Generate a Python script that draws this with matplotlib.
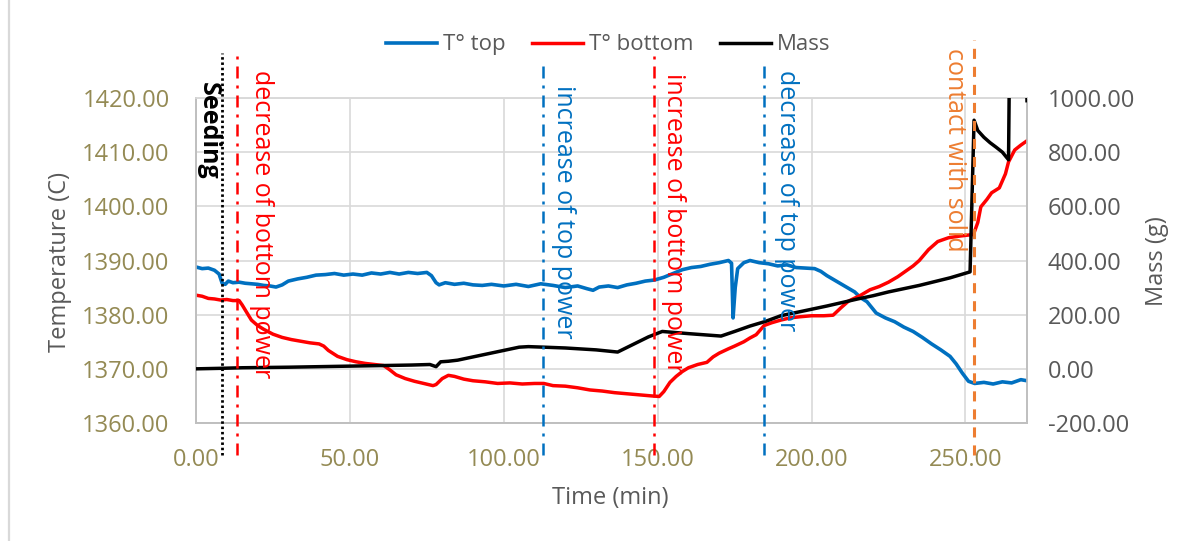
import matplotlib
matplotlib.use("Agg")
import matplotlib.pyplot as plt
from matplotlib.lines import Line2D
from matplotlib.ticker import FormatStrFormatter
import matplotlib.transforms as mtransforms

plt.rcParams['font.family'] = ['Open Sans', 'DejaVu Sans']

# ---- data -------------------------------------------------------------
t_top = [0, 2, 4, 6, 7.5, 8.5, 9.5, 10.5, 12, 14, 16, 18, 20, 22, 24, 26, 28, 30,
         33, 36, 39, 42, 45, 48, 51, 54, 57, 60, 63, 66, 69, 72, 75, 76.5, 78, 79,
         81, 84, 87, 90, 93, 96, 100, 104, 108, 112, 116, 120, 124, 127, 129, 131,
         134, 137, 140, 143, 146, 149, 152, 155, 158, 161, 164, 167, 170, 173, 174,
         174.5, 175.2, 176, 178, 180, 183, 186, 189, 192, 195, 198, 201, 203, 205,
         208, 211, 214, 216, 218, 221, 224, 227, 230, 233, 236, 239, 242, 245, 247,
         249, 251, 253, 256, 259, 262, 265, 268, 270]
temp_top = [1388.8, 1388.5, 1388.6, 1388.2, 1387.5, 1385.8, 1385.6, 1386.2, 1385.9,
            1386.0, 1385.8, 1385.7, 1385.6, 1385.4, 1385.3, 1385.1, 1385.5, 1386.2,
            1386.6, 1386.9, 1387.3, 1387.4, 1387.6, 1387.3, 1387.5, 1387.3, 1387.7,
            1387.5, 1387.8, 1387.5, 1387.8, 1387.6, 1387.8, 1387.2, 1385.9, 1385.5,
            1385.9, 1385.6, 1385.8, 1385.5, 1385.4, 1385.6, 1385.3, 1385.6, 1385.2,
            1385.7, 1385.4, 1385.0, 1385.3, 1384.8, 1384.5, 1385.1, 1385.3, 1385.0,
            1385.5, 1385.8, 1386.2, 1386.4, 1386.9, 1387.6, 1388.3, 1388.7, 1388.9,
            1389.3, 1389.6, 1390.0, 1389.5, 1379.4, 1385.0, 1388.5, 1389.6, 1390.0,
            1389.6, 1389.4, 1389.0, 1389.2, 1388.7, 1388.6, 1388.5, 1388.0, 1387.2,
            1386.2, 1385.2, 1384.2, 1383.1, 1382.4, 1380.3, 1379.4, 1378.7, 1377.7,
            1376.9, 1375.8, 1374.6, 1373.5, 1372.3, 1370.9, 1369.2, 1367.7, 1367.3,
            1367.5, 1367.2, 1367.6, 1367.4, 1368.0, 1367.8]

t_bottom = [0, 2, 4, 6, 8, 10, 12, 14, 15, 16.6, 18, 20, 22, 25, 28, 31, 34, 37, 40,
            41.5, 43, 46, 49, 52, 55, 58, 61, 63, 65, 68, 71, 74, 77, 78, 80, 82, 84,
            87, 90, 94, 98, 102, 106, 110, 113, 116, 120, 124, 128, 132, 136, 140,
            144, 148, 150.5, 152, 154, 156, 158, 160, 163, 166, 168, 170, 173, 175,
            178, 180, 182, 184.6, 187, 190, 193, 196, 200, 204, 207, 209.6, 212, 216,
            219, 222, 225, 228, 231, 233, 235, 238, 241, 244.5, 248, 251, 252.6, 254,
            255, 257, 258.5, 261, 263, 264, 266, 268, 270]
temp_bottom = [1383.6, 1383.4, 1383.0, 1382.9, 1382.7, 1382.8, 1382.6, 1382.6, 1381.8,
               1380.3, 1379.0, 1378.0, 1377.3, 1376.4, 1375.8, 1375.4, 1375.1, 1374.8,
               1374.6, 1374.2, 1373.4, 1372.3, 1371.7, 1371.3, 1371.0, 1370.8, 1370.6,
               1369.8, 1368.9, 1368.2, 1367.7, 1367.3, 1366.9, 1367.1, 1368.2, 1368.8,
               1368.6, 1368.1, 1367.8, 1367.6, 1367.3, 1367.4, 1367.2, 1367.3, 1367.3,
               1366.9, 1366.8, 1366.5, 1366.1, 1365.9, 1365.6, 1365.4, 1365.2, 1365.0,
               1364.9, 1365.8, 1367.5, 1368.6, 1369.5, 1370.2, 1370.8, 1371.2, 1372.2,
               1372.9, 1373.7, 1374.2, 1375.0, 1375.7, 1376.3, 1378.0, 1378.5, 1379.0,
               1379.4, 1379.6, 1379.8, 1379.8, 1379.9, 1381.3, 1382.5, 1383.6, 1384.6,
               1385.2, 1386.0, 1387.0, 1388.2, 1389.0, 1390.0, 1392.0, 1393.5, 1394.2,
               1394.5, 1394.7, 1394.8, 1397.0, 1399.9, 1401.3, 1402.5, 1403.4, 1406.0,
               1408.2, 1410.4, 1411.3, 1412.1]

t_mass = [0, 8.5, 15, 30, 50, 70, 76, 78, 79.5, 82, 85, 90, 95, 100, 105, 108, 113,
          120, 130, 137, 142, 147, 151.5, 160, 170.6, 175, 180, 185, 190, 195, 200,
          205, 210, 215, 220, 225, 230, 235, 240, 245, 251.5, 252.8, 254, 256, 258,
          260, 262, 264, 264.4, 269.6, 270]
mass = [0, 2, 4, 6, 10, 14, 16, 8, 26, 28, 32, 44, 56, 68, 80, 82, 80, 77, 70, 62,
        90, 118, 138, 130, 121, 138, 158, 175, 196, 208, 220, 232, 245, 258, 270, 284,
        296, 308, 322, 336, 358, 918, 880, 855, 835, 818, 800, 772, 1250, 1250, 990]

# event markers and their captions
event_times = [8.6, 13.2, 112.7, 148.9, 184.7, 252.8]
event_labels = ["Seeding", "decrease of bottom power", "increase of top power",
                "increase of bottom power", "decrease of top power", "contact with solid"]

temp_ticks = [1360, 1370, 1380, 1390, 1400, 1410, 1420]
mass_ticks = [-200, 0, 200, 400, 600, 800, 1000]
time_ticks = [0, 50, 100, 150, 200, 250]

# ---- styling ------------------------------------------------------------
BLUE = "#0070C0"
RED = "#FF0000"
ORANGE = "#ED7D31"
OLIVE = "#948A54"
GREY = "#595959"
GRID = "#D9D9D9"

W, H = 1189, 541
fig = plt.figure(figsize=(W / 100, H / 100), dpi=100)
ax = fig.add_axes([196 / W, 1 - 423 / H, (1027 - 196) / W, (423 - 98) / H])
ax2 = ax.twinx()

ax.set_xlim(0, 270)
ax.set_ylim(1360, 1420)
ax2.set_ylim(-200, 1000)

ax.set_xticks(time_ticks)
ax.set_yticks(temp_ticks)
ax2.set_yticks(mass_ticks)
ax.xaxis.set_major_formatter(FormatStrFormatter("%.2f"))
ax.yaxis.set_major_formatter(FormatStrFormatter("%.2f"))
ax2.yaxis.set_major_formatter(FormatStrFormatter("%.2f"))

ax.tick_params(axis="x", length=0, pad=18, labelsize=17, labelcolor=OLIVE)
ax.tick_params(axis="y", length=0, pad=19, labelsize=17, labelcolor=OLIVE)
ax2.tick_params(axis="y", length=0, pad=15, labelsize=17, labelcolor=GREY)

ax.grid(True, color=GRID, linewidth=1.2)
ax.set_axisbelow(True)
for a in (ax, ax2):
    for side in ("left", "right", "top", "bottom"):
        a.spines[side].set_color("#BFBFBF")
        a.spines[side].set_linewidth(1.2)
    a.spines["top"].set_color(GRID)

l_top, = ax.plot(t_top, temp_top, color=BLUE, lw=2.6, label="T° top", zorder=3)
l_bot, = ax.plot(t_bottom, temp_bottom, color=RED, lw=2.5, label="T° bottom", zorder=3)
l_mass, = ax2.plot(t_mass, mass, color="black", lw=2.5, label="Mass", zorder=3)

# vertical event lines with rotated captions
blend = mtransforms.blended_transform_factory(ax2.transData, ax2.transAxes)
dashdot = (0, (4.8, 2.8, 1.2, 2.8))
styles = [
    dict(color="black", lw=2.0, ls=(0, (0.9, 1.0)), ymax=1.14),
    dict(color=RED, lw=1.8, ls=dashdot, ymax=1.13),
    dict(color=BLUE, lw=1.8, ls=dashdot, ymax=1.12),
    dict(color=RED, lw=1.8, ls=dashdot, ymax=1.13),
    dict(color=BLUE, lw=1.8, ls=dashdot, ymax=1.12),
    dict(color=ORANGE, lw=2.2, ls=(0, (3.3, 2.6)), ymax=1.18),
]
text_x = [3.9, 21.2, 119.5, 155.3, 192.0, 246.4]
text_top = [1.049, 1.086, 1.04, 1.077, 1.086, 1.154]
text_colors = ["black", RED, BLUE, RED, BLUE, ORANGE]
for tx, st in zip(event_times, styles):
    ln = Line2D([tx, tx], [-0.098, st["ymax"]], transform=blend, color=st["color"],
                lw=st["lw"], ls=st["ls"], clip_on=False, zorder=6)
    ln.set_dash_capstyle("butt")
    ax2.add_line(ln)
for lab, x, y, c in zip(event_labels, text_x, text_top, text_colors):
    ax2.text(x, y, lab, transform=blend, rotation=270, ha="center", va="top",
             color=c, fontsize=18, fontweight="bold" if lab == "Seeding" else "normal",
             zorder=7, clip_on=False)

# axis titles
fig.text(60 / W, 1 - 262 / H, "Temperature (C)", rotation=90, ha="center", va="center",
         color=GREY, fontsize=17)
fig.text(1157 / W, 1 - 261 / H, "Mass (g)", rotation=90, ha="center", va="center",
         color=GREY, fontsize=17)
fig.text(610 / W, 1 - 498 / H, "Time (min)", ha="center", va="center",
         color=GREY, fontsize=17)

fig.legend(handles=[l_top, l_bot, l_mass], loc="center",
           bbox_to_anchor=(608 / W, 1 - 45 / H), ncol=3, frameon=False,
           fontsize=16, handlelength=2.3, handletextpad=0.25, columnspacing=1.2,
           labelcolor=GREY)

# chart frame edge
fig.add_artist(Line2D([8.5 / W, 8.5 / W], [0, 1], transform=fig.transFigure,
                      color=GRID, lw=1.6))

fig.savefig("out.png", dpi=100)
